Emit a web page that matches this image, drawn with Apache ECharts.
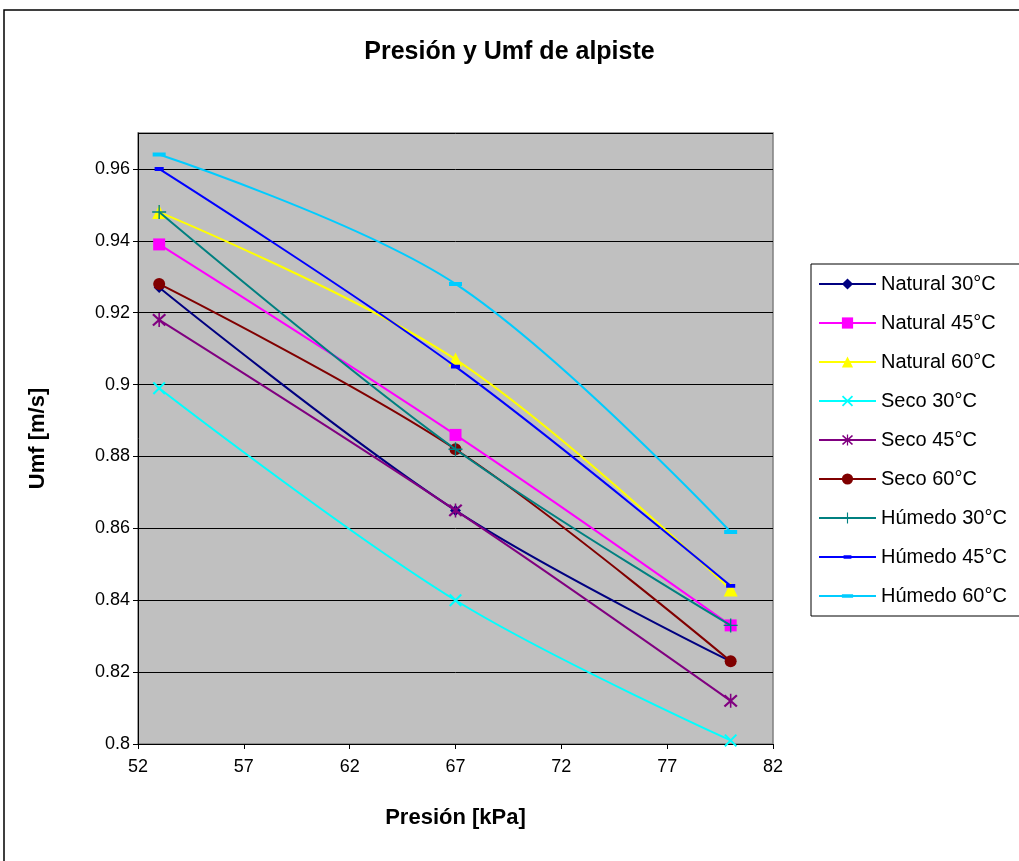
<!DOCTYPE html>
<html>
<head>
<meta charset="utf-8">
<script src="https://cdn.jsdelivr.net/npm/echarts@6/dist/echarts.min.js"></script>
<style>html,body{margin:0;padding:0;background:#fff}#c{width:1019px;height:861px}</style>
</head>
<body>
<div id="c"></div>
<script>
const presion = [53, 67, 80];
const natural30 = [0.927, 0.865, 0.823];
const natural45 = [0.939, 0.886, 0.833];
const natural60 = [0.948, 0.907, 0.843];
const seco30 = [0.899, 0.840, 0.801];
const seco45 = [0.918, 0.865, 0.812];
const seco60 = [0.928, 0.882, 0.823];
const humedo30 = [0.948, 0.882, 0.833];
const humedo45 = [0.960, 0.905, 0.844];
const humedo60 = [0.964, 0.928, 0.859];
const seriesNames = ['Natural 30°C','Natural 45°C','Natural 60°C','Seco 30°C','Seco 45°C','Seco 60°C','Húmedo 30°C','Húmedo 45°C','Húmedo 60°C'];
const seriesValues = [natural30, natural45, natural60, seco30, seco45, seco60, humedo30, humedo45, humedo60];
const xTicks = [52, 57, 62, 67, 72, 77, 82];

const FONT = '"Liberation Sans", Arial, sans-serif';
const PLUS = 'path://M9,0 L11,0 L11,9 L20,9 L20,11 L11,11 L11,20 L9,20 L9,11 L0,11 L0,9 L9,9 Z';
const XS = 'path://M1,3 L3,1 L19,17 L17,19 Z M17,1 L19,3 L3,19 L1,17 Z';
const STAR = 'path://M9,0 L11,0 L11,20 L9,20 Z M1,3 L3,1 L19,17 L17,19 Z M17,1 L19,3 L3,19 L1,17 Z';
// dashes inside a square box (tiny invisible anchors keep the box square)
const DASH_S = 'path://M3,7 L17,7 L17,13 L3,13 Z M10,0 L10.01,0 L10.01,0.01 Z M10,20 L10.01,20 L10.01,19.99 Z M0,10 L0.01,10 L0.01,10.01 Z M20,10 L19.99,10 L19.99,10.01 Z';
const DASH_L = 'path://M0,7 L20,7 L20,13 L0,13 Z M10,0 L10.01,0 L10.01,0.01 Z M10,20 L10.01,20 L10.01,19.99 Z';
const styles = [
  {color:'#000080', symbol:'diamond', size:11},
  {color:'#FF00FF', symbol:'rect', size:12},
  {color:'#FFFF00', symbol:'triangle', size:14},
  {color:'#00FFFF', symbol:XS, size:13},
  {color:'#800080', symbol:STAR, size:14},
  {color:'#800000', symbol:'circle', size:12},
  {color:'#008080', symbol:PLUS, size:14},
  {color:'#0000FF', symbol:DASH_S, size:13},
  {color:'#00CCFF', symbol:DASH_L, size:13}
];

const series = seriesNames.map((n, i) => ({
  name: n,
  type: 'line',
  smooth: 0.35,
  data: presion.map((p, j) => [p, seriesValues[i][j]]),
  symbol: styles[i].symbol,
  symbolSize: styles[i].size,
  showAllSymbol: true,
  lineStyle: {color: styles[i].color, width: 2},
  itemStyle: {color: styles[i].color},
  emphasis: {disabled: true},
  z: 2 + i
}));

const chart = echarts.init(document.getElementById('c'), null, {renderer: 'canvas'});
chart.setOption({
  animation: false,
  backgroundColor: '#fff',
  title: {
    text: 'Presión y Umf de alpiste',
    left: 'center',
    top: 35,
    textStyle: {fontFamily: FONT, fontSize: 25, fontWeight: 'bold', color: '#000'}
  },
  graphic: [{
    type: 'rect', shape: {x: 4, y: 10, width: 1100, height: 1000},
    style: {fill: 'none', stroke: '#000', lineWidth: 1.5}, silent: true, z: 0
  }],
  legend: {
    orient: 'vertical',
    left: 811,
    top: 264,
    itemWidth: 57,
    itemHeight: 14,
    itemGap: 19,
    padding: [10, 40, 10, 7],
    borderColor: '#000',
    borderWidth: 1,
    backgroundColor: '#fff',
    textStyle: {fontFamily: FONT, fontSize: 20, color: '#000', lineHeight: 20},
    data: seriesNames
  },
  grid: {
    left: 138, right: 246, top: 133, bottom: 117,
    show: true, backgroundColor: '#C0C0C0', borderColor: '#808080', borderWidth: 1.5
  },
  xAxis: {
    type: 'value', min: 52, max: 82, interval: 5,
    name: 'Presión [kPa]', nameLocation: 'middle', nameGap: 63,
    nameTextStyle: {fontFamily: FONT, fontSize: 22, fontWeight: 'bold', color: '#000'},
    axisLine: {show: true, onZero: false, lineStyle: {color: '#000', width: 1}},
    axisTick: {show: true, length: 5, lineStyle: {color: '#000'}},
    axisLabel: {fontFamily: FONT, fontSize: 18, color: '#000', margin: 14},
    splitLine: {show: false}
  },
  yAxis: {
    type: 'value', min: 0.8, max: 0.97, interval: 0.02,
    name: 'Umf [m/s]', nameLocation: 'middle', nameGap: 89, nameRotate: 90,
    nameTextStyle: {fontFamily: FONT, fontSize: 22, fontWeight: 'bold', color: '#000'},
    axisLine: {show: true, lineStyle: {color: '#000', width: 1}},
    axisTick: {show: true, length: 5, lineStyle: {color: '#000'}},
    axisLabel: {fontFamily: FONT, fontSize: 18, color: '#000', margin: 8, showMaxLabel: false,
      formatter: v => String(Math.round(v * 100) / 100)},
    splitLine: {show: true, lineStyle: {color: '#000', width: 1}}
  },
  series: series
});
</script>
</body>
</html>
